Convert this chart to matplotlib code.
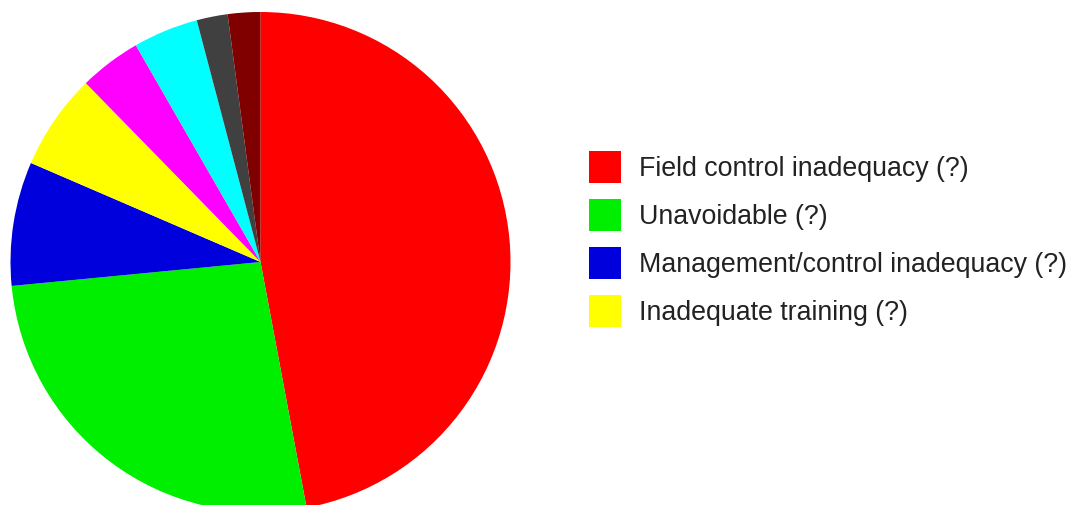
import matplotlib
matplotlib.use("Agg")
import matplotlib.pyplot as plt
from matplotlib.patches import Rectangle

plt.rcParams['font.family'] = ['Liberation Sans', 'DejaVu Sans']

# Share of incidents by cause (percent)
causes = ["Field control inadequacy (?)", "Unavoidable (?)",
          "Management/control inadequacy (?)", "Inadequate training (?)",
          "Other 1", "Other 2", "Other 3", "Other 4"]
shares = [47.0, 26.4, 8.0, 6.2, 4.0, 4.2, 2.0, 2.1]
colors = ["#ff0000", "#00ee00", "#0000dd", "#ffff00",
          "#ff00ff", "#00ffff", "#404040", "#800000"]
n_legend = 4

W, H = 1082, 506
fig = plt.figure(figsize=(W / 100, H / 100), dpi=100)
ax = fig.add_axes([0, 0, 1, 1])

wedges, _ = ax.pie(shares, colors=colors, startangle=90, counterclock=False,
                   radius=250, center=(260.5, H - 263), frame=True,
                   wedgeprops=dict(linewidth=0, antialiased=True))
ax.set_xlim(0, W)
ax.set_ylim(0, H)
ax.set_aspect("equal")
ax.axis("off")

# legend only lists the first four causes
for i in range(n_legend):
    top = 152 + 48 * i
    ax.add_patch(Rectangle((589, H - top - 32), 32, 32, facecolor=colors[i],
                           edgecolor="none"))
    ax.text(639, H - top - 24, causes[i], fontsize=19.3, color="#222222",
            va="baseline", ha="left")

fig.savefig("out.png", dpi=100, facecolor="white")
